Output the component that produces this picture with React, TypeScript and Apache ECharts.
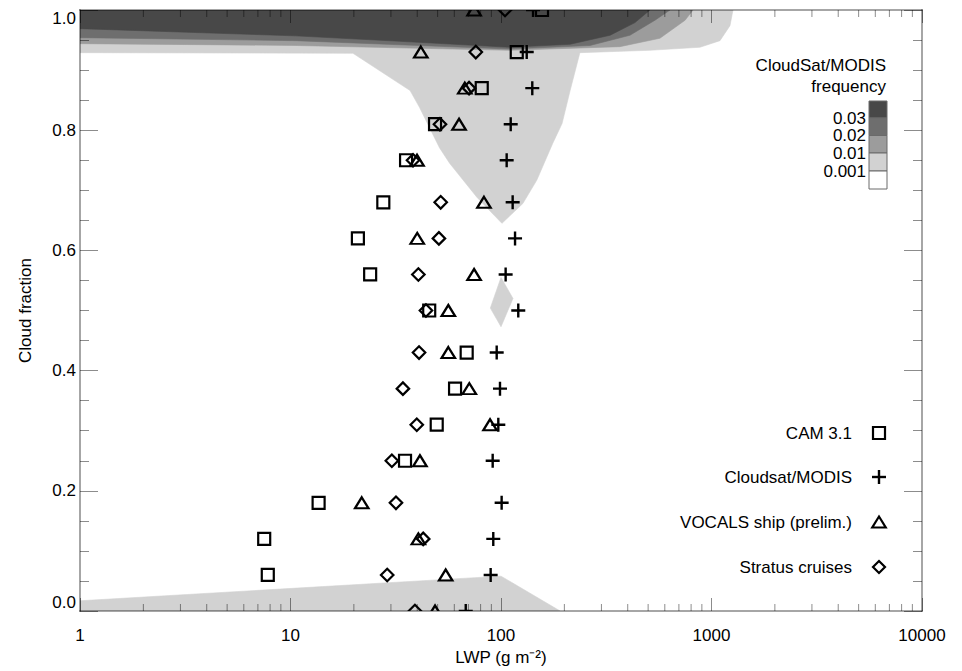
import React, { useEffect, useRef } from "react";
import * as echarts from "echarts";

// ---------- data ----------
const cloudFraction = [0, 0.06, 0.12, 0.18, 0.25, 0.31, 0.37, 0.43, 0.5, 0.56, 0.62, 0.68, 0.75, 0.81, 0.87, 0.93, 1.0];
const camLWP = [null, 7.8, 7.5, 13.6, 35, 49.5, 60.5, 68.7, 45.6, 23.9, 20.9, 27.6, 35.4, 48.6, 81, 118.8, 156.6];
const cloudsatLWP = [68, 89.3, 91.9, 100.7, 91.3, 97.1, 98.9, 95.4, 120.8, 105.2, 116.6, 113.6, 106.4, 111.2, 140.8, 132.5, 142];
const vocalsLWP = [48.6, 54.6, 40.5, 21.8, 41.2, 88.7, 70.7, 56.2, 56.2, 74.5, 40, 83, 39.9, 63.2, 67.3, 41.6, 74.5];
const stratusLWP = [39, 28.8, 42.7, 31.7, 30.3, 39.8, 34.2, 40.8, 44, 40.5, 50.7, 51.7, 38.2, 51.3, 70.5, 75.9, 104.5];

const seriesNames = ["CAM 3.1", "Cloudsat/MODIS", "VOCALS ship (prelim.)", "Stratus cruises"];

// CloudSat/MODIS joint-frequency contour regions, [LWP, cloud fraction]
const freq001Band = [
  [1, 1.0], [1265, 1.0], [1224, 0.974], [1097, 0.949], [881, 0.938], [510, 0.933], [237, 0.929],
  [213, 0.866], [195, 0.811], [176, 0.778], [148, 0.717], [127, 0.678], [101, 0.645],
  [77, 0.688], [57, 0.745], [51, 0.771], [41, 0.838], [37, 0.866], [19.8, 0.928], [1, 0.929],
];
const freq001Patch = [[100, 0.555], [114, 0.52], [100, 0.473], [89, 0.504]];
const freq001Bottom = [[1, -0.01], [1, 0.017], [100, 0.058], [191, 0], [200, -0.01]];
const freq01Band = [
  [1, 1.0], [817, 1.0], [749, 0.983], [569, 0.953], [367, 0.939], [110, 0.933], [10.5, 0.941], [1, 0.944],
];
const freq02Band = [
  [1, 1.0], [635, 1.0], [539, 0.983], [410, 0.958], [265, 0.941], [110, 0.935], [10.5, 0.949], [1, 0.954],
];
const freq03Band = [
  [1, 1.0], [510, 1.0], [433, 0.979], [330, 0.958], [213, 0.943], [110, 0.938], [33, 0.948], [10.5, 0.957], [1, 0.969],
];

const freqLevelLabels = ["0.03", "0.02", "0.01", "0.001"];
const freqColors = ["#484848", "#6e6e6e", "#9c9c9c", "#d2d2d2", "#ffffff"];

const xTickLabels = [1, 10, 100, 1000, 10000];
const xMinorTicks = [2, 3, 4, 5, 6, 7, 8, 9, 20, 30, 40, 50, 60, 70, 80, 90, 200, 300, 400, 500, 600, 700, 800, 900, 2000, 3000, 4000, 5000, 6000, 7000, 8000, 9000];

const FONT = "Liberation Sans, Arial, Helvetica, sans-serif";
const AXIS_LINE = { color: "#000", opacity: 0.35, width: 2 };
const TICK_LINE = { color: "#000", opacity: 0.45, width: 1 };

function pairs(lwp: (number | null)[]) {
  const out: number[][] = [];
  lwp.forEach((v, i) => {
    if (v != null) out.push([v, cloudFraction[i]]);
  });
  return out;
}

function polygonSeries(name: string, pts: number[][], color: string) {
  return {
    type: "custom",
    name,
    silent: true,
    clip: true,
    z: 1,
    data: pts,
    renderItem: (params: any, api: any) => {
      if (params.dataIndex !== 0) return null;
      const points = pts.map((p) => api.coord(p));
      return {
        type: "polygon",
        shape: { points },
        style: { fill: color, stroke: color, lineWidth: 0.6 },
      };
    },
  };
}

const plusPath = "path://M5.8,0H8.2V5.8H14V8.2H8.2V14H5.8V8.2H0V5.8H5.8Z";

export default function App() {
  const ref = useRef<HTMLDivElement>(null);

  useEffect(() => {
    if (!ref.current) return;
    const chart = echarts.init(ref.current, null, { renderer: "svg" });

    const hollow = { color: "rgba(0,0,0,0)", borderColor: "#000", borderWidth: 2.2, opacity: 1 };

    const xAxisCommon = {
      type: "log",
      logBase: 10,
      min: 1,
      max: 10000,
      z: 10,
      splitLine: { show: false },
      axisLine: { show: true, onZero: false, lineStyle: AXIS_LINE },
      axisTick: { show: true, inside: true, length: 13, lineStyle: TICK_LINE },
    };
    const yAxisCommon = {
      type: "value",
      min: 0,
      max: 1,
      interval: 0.2,
      z: 10,
      splitLine: { show: false },
      minorSplitLine: { show: false },
      axisLine: { show: true, onZero: false, lineStyle: AXIS_LINE },
      axisTick: { show: true, inside: true, length: 18, lineStyle: TICK_LINE },
      minorTick: { show: true, splitNumber: 4, length: 9, lineStyle: TICK_LINE },
    };

    const txt = (x: number, y: number, text: string, align = "right", size = 17) => ({
      type: "text",
      x,
      y,
      z: 20,
      silent: true,
      style: { text, fill: "#000", font: `${size}px ${FONT}`, align, verticalAlign: "middle" },
    });

    const legendRows = [433, 477, 522, 567];
    const legendIconX = 879;
    const legendTextX = 852;

    const cbX = 869, cbW = 18;
    const cbEdges = [101, 118, 135.5, 153, 171, 189];

    const graphic: any[] = [
      // masks clipping the half-symbols lying on the frame
      { type: "rect", z: 5, silent: true, shape: { x: 81, y: 0, width: 841, height: 10 }, style: { fill: "#fff" } },
      { type: "rect", z: 5, silent: true, shape: { x: 81, y: 611, width: 841, height: 14 }, style: { fill: "#fff" } },
      // frequency key
      txt(886, 65, "CloudSat/MODIS"),
      txt(886, 86, "frequency"),
    ];
    freqColors.forEach((c, i) => {
      graphic.push({
        type: "rect",
        z: 20,
        silent: true,
        shape: { x: cbX, y: cbEdges[i], width: cbW, height: cbEdges[i + 1] - cbEdges[i] },
        style: { fill: c, stroke: "#6a6a6a", lineWidth: 1 },
      });
    });
    freqLevelLabels.forEach((t, i) => graphic.push(txt(866, cbEdges[i + 1], t)));

    // symbol key
    seriesNames.forEach((n, i) => graphic.push(txt(legendTextX, legendRows[i], n)));
    const st = { stroke: "#000", lineWidth: 2.2, fill: "none" };
    graphic.push({ type: "rect", z: 20, silent: true, shape: { x: legendIconX - 6, y: legendRows[0] - 6, width: 12, height: 12 }, style: st });
    graphic.push({ type: "line", z: 20, silent: true, shape: { x1: legendIconX - 7, y1: legendRows[1], x2: legendIconX + 7, y2: legendRows[1] }, style: { stroke: "#000", lineWidth: 2.4 } });
    graphic.push({ type: "line", z: 20, silent: true, shape: { x1: legendIconX, y1: legendRows[1] - 7, x2: legendIconX, y2: legendRows[1] + 7 }, style: { stroke: "#000", lineWidth: 2.4 } });
    graphic.push({ type: "polygon", z: 20, silent: true, shape: { points: [[legendIconX, legendRows[2] - 5.5], [legendIconX + 6.75, legendRows[2] + 5.5], [legendIconX - 6.75, legendRows[2] + 5.5]] }, style: st });
    graphic.push({ type: "polygon", z: 20, silent: true, shape: { points: [[legendIconX, legendRows[3] - 6], [legendIconX + 6, legendRows[3]], [legendIconX, legendRows[3] + 6], [legendIconX - 6, legendRows[3]]] }, style: st });

    const option: any = {
      animation: false,
      backgroundColor: "#ffffff",
      textStyle: { fontFamily: FONT },
      grid: { left: 80, right: 40, top: 10, bottom: 60, containLabel: false },
      xAxis: [
        {
          ...xAxisCommon,
          position: "bottom",
          name: "LWP (g m\u207B\u00B2)",
          nameLocation: "middle",
          nameGap: 33,
          nameTextStyle: { fontSize: 17, color: "#000", fontFamily: FONT },
          axisLabel: {
            show: true,
            fontSize: 17,
            color: "#000",
            fontFamily: FONT,
            margin: 16,
            customValues: xTickLabels,
            formatter: (v: number) => String(Math.round(v)),
          },
        },
        { ...xAxisCommon, position: "top", axisLabel: { show: false } },
      ],
      yAxis: [
        {
          ...yAxisCommon,
          position: "left",
          name: "Cloud fraction",
          nameLocation: "middle",
          nameGap: 46,
          nameTextStyle: { fontSize: 17, color: "#000", fontFamily: FONT },
          axisLabel: {
            show: true,
            fontSize: 17,
            color: "#000",
            fontFamily: FONT,
            margin: 4,
            formatter: (v: number) => v.toFixed(1),
            verticalAlignMinLabel: "bottom",
            verticalAlignMaxLabel: "top",
          },
        },
        { ...yAxisCommon, position: "right", axisLabel: { show: false } },
      ],
      graphic,
      series: [
        polygonSeries("freq ≥ 0.001", freq001Band, freqColors[3]),
        polygonSeries("freq ≥ 0.001 patch", freq001Patch, freqColors[3]),
        polygonSeries("freq ≥ 0.001 low", freq001Bottom, freqColors[3]),
        polygonSeries("freq ≥ 0.01", freq01Band, freqColors[2]),
        polygonSeries("freq ≥ 0.02", freq02Band, freqColors[1]),
        polygonSeries("freq ≥ 0.03", freq03Band, freqColors[0]),
        {
          type: "scatter", name: seriesNames[0], z: 3, clip: false,
          data: pairs(camLWP), symbol: "rect", symbolSize: 12, itemStyle: hollow,
        },
        {
          type: "scatter", name: seriesNames[1], z: 3, clip: false,
          data: pairs(cloudsatLWP), symbol: plusPath, symbolSize: 14, itemStyle: { color: "#000", opacity: 1 },
        },
        {
          type: "scatter", name: seriesNames[2], z: 3, clip: false,
          data: pairs(vocalsLWP), symbol: "triangle", symbolSize: [13.5, 11], itemStyle: hollow,
        },
        {
          type: "scatter", name: seriesNames[3], z: 3, clip: false,
          data: pairs(stratusLWP), symbol: "diamond", symbolSize: [12.5, 12.5], itemStyle: hollow,
        },
        {
          type: "custom",
          name: "minor ticks",
          silent: true,
          clip: false,
          z: 12,
          data: xMinorTicks.map((v) => [v, 0]),
          renderItem: (params: any, api: any) => {
            const x = api.coord([api.value(0), 0])[0];
            const cs = params.coordSys;
            const s = { stroke: "#000", opacity: 0.45, lineWidth: 1 };
            return {
              type: "group",
              children: [
                { type: "line", shape: { x1: x, y1: cs.y + cs.height, x2: x, y2: cs.y + cs.height - 7 }, style: s },
                { type: "line", shape: { x1: x, y1: cs.y, x2: x, y2: cs.y + 7 }, style: s },
              ],
            };
          },
        },
      ],
    };

    chart.setOption(option);
    return () => chart.dispose();
  }, []);

  return (
    <div
      ref={ref}
      style={{ position: "absolute", left: 0, top: 0, width: 962, height: 671 }}
    />
  );
}
